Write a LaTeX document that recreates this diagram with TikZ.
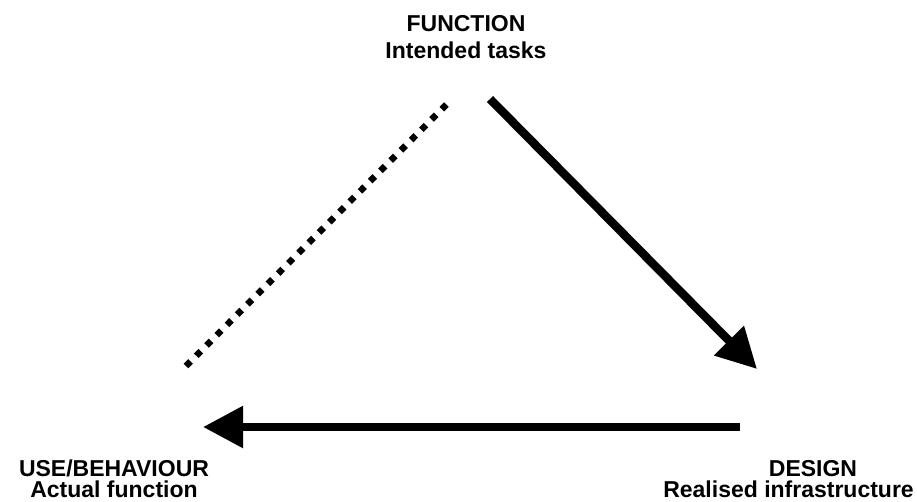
\documentclass[tikz,border=0pt]{standalone}
\usepackage{fontspec}
\setmainfont{Liberation Sans}
\usetikzlibrary{arrows.meta}
\begin{document}
\begin{tikzpicture}[x=1pt,y=-1pt,
  lbl/.style={font=\bfseries\fontsize{23}{27}\selectfont, inner sep=0pt, anchor=base},
  thickarrow/.style={line width=8.5pt, -{Triangle[length=40pt,width=40pt]}},
  dotline/.style={line width=6.5pt, dash pattern=on 6.5pt off 8pt}]
\useasboundingbox (0,0) rectangle (917,501);
\node[lbl] (fun1) at (466,31) {FUNCTION};
\node[lbl] (fun2) at (466,58) {Intended tasks};
\node[lbl] (use1) at (114,476) {USE/BEHAVIOUR};
\node[lbl] (use2) at (114,497) {Actual function};
\node[lbl] (des1) at (813,476) {DESIGN};
\node[lbl, anchor=base east] (des2) at (914,497) {Realised infrastructure};
\coordinate (f1) at (490,99);
\coordinate (d1) at (757,369);
\coordinate (d2) at (740,427);
\coordinate (u2) at (203,427);
\coordinate (u3) at (186,366);
\coordinate (f3) at (451,100);
\draw[thickarrow] (f1) -- (d1);
\draw[thickarrow] (d2) -- (u2);
\draw[dotline] (u3) -- (f3);
\end{tikzpicture}
\end{document}
